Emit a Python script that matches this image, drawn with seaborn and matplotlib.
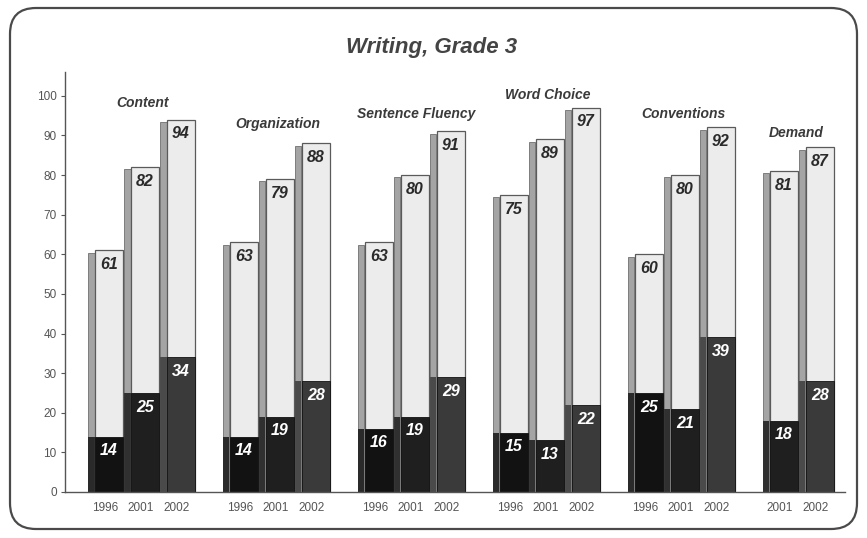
import numpy as np
import pandas as pd
import matplotlib
matplotlib.use("Agg")
import matplotlib.pyplot as plt
from matplotlib.patches import FancyBboxPatch
import seaborn as sns

# ---------------- data ----------------
categories = ["Content", "Organization", "Sentence Fluency", "Word Choice", "Conventions", "Demand"]
years_by_cat = [["1996", "2001", "2002"], ["1996", "2001", "2002"], ["1996", "2001", "2002"],
                ["1996", "2001", "2002"], ["1996", "2001", "2002"], ["2001", "2002"]]
total_pct = [[61, 82, 94], [63, 79, 88], [63, 80, 91], [75, 89, 97], [60, 80, 92], [81, 87]]
lower_pct = [[14, 25, 34], [14, 19, 28], [16, 19, 29], [15, 13, 22], [25, 21, 39], [18, 28]]
y_ticks = [0, 10, 20, 30, 40, 50, 60, 70, 80, 90, 100]

# ---------------- layout ----------------
GROUP_STEP = 3.75
FRONT_OFF, FRONT_W = 0.11, 0.78
SIDE_OFF, SIDE_W = -0.385, 0.19
cat_label_y = [98.2, 92.9, 95.5, 100.3, 95.5, 90.7]
cat_label_dx = [0.0, 0.0, 0.11, 0.0, 0.03, -0.1]

rows = []
for g, (cat, yrs, tots, lows) in enumerate(zip(categories, years_by_cat, total_pct, lower_pct)):
    for i, (yr, t, l) in enumerate(zip(yrs, tots, lows)):
        rows.append(dict(cat=cat, group=g, year=yr, slot=g * GROUP_STEP + i, total=t, lower=l))
df = pd.DataFrame(rows)
df["front_x"] = df["slot"] + FRONT_OFF
df["side_x"] = df["slot"] + SIDE_OFF
df["side_h"] = df["total"] - 0.6

dark_pal = {"1996": "#121212", "2001": "#1f1f1f", "2002": "#3a3a3a"}
side_dark_pal = {"1996": "#2a2a2a", "2001": "#303030", "2002": "#4a4a4a"}

sns.set_theme(style="white")
plt.rcParams["font.family"] = ["Liberation Sans", "DejaVu Sans"]

fig = plt.figure(figsize=(8.67, 5.38), dpi=100)
ax = fig.add_axes([65 / 867, 1 - 492 / 538, (845 - 65) / 867, (492 - 72) / 538])

# side faces (gray for whole height)
sns.barplot(data=df, x="side_x", y="side_h", native_scale=True, width=SIDE_W,
            color="#a4a4a4", saturation=1, errorbar=None, ax=ax,
            edgecolor="#707070", linewidth=0.6)
# side faces of dark part
sns.barplot(data=df, x="side_x", y="lower", hue="year", palette=side_dark_pal, dodge=False,
            native_scale=True, width=SIDE_W, saturation=1, errorbar=None, ax=ax,
            legend=False, linewidth=0)
# light front faces
sns.barplot(data=df, x="front_x", y="total", native_scale=True, width=FRONT_W,
            color="#ececec", saturation=1, errorbar=None, ax=ax,
            edgecolor="#5a5a5a", linewidth=0.9)
# dark lower portions
sns.barplot(data=df, x="front_x", y="lower", hue="year", palette=dark_pal, dodge=False,
            native_scale=True, width=FRONT_W, saturation=1, errorbar=None, ax=ax,
            legend=False, edgecolor="#111111", linewidth=0.6)

# value labels
for _, r in df.iterrows():
    ax.text(r["front_x"], r["total"] - 3.6, f"{r['total']}", ha="center", va="center",
            fontsize=11.5, fontstyle="italic", fontweight="bold", color="#2a2a2a")
    ax.text(r["front_x"], r["lower"] - 3.6, f"{r['lower']}", ha="center", va="center",
            fontsize=11.5, fontstyle="italic", fontweight="bold", color="white")

# category labels
for g, cat in enumerate(categories):
    sub = df[df["group"] == g]
    cx = sub["slot"].mean() + 0.05 + cat_label_dx[g]
    ax.text(cx, cat_label_y[g], cat, ha="center", va="center", fontsize=10,
            fontstyle="italic", fontweight="bold", color="#3a3a3a")

ax.set_xlim(-1.11, 20.56)
ax.set_ylim(0, 106)
ax.set_xticks(df["slot"].tolist())
ax.set_xticklabels(df["year"].tolist(), fontsize=8.5, color="#555555")
ax.set_yticks(y_ticks)
ax.set_yticklabels([str(v) for v in y_ticks], fontsize=8.5, color="#555555")
ax.set_xlabel("")
ax.set_ylabel("")
for s in ["top", "right"]:
    ax.spines[s].set_visible(False)
for s in ["left", "bottom"]:
    ax.spines[s].set_color("#555555")
    ax.spines[s].set_linewidth(1.0)
ax.tick_params(axis="y", left=True, length=3, width=0.8, color="#555555", pad=3)
ax.tick_params(axis="x", bottom=False, pad=1)
ax.set_facecolor("white")

fig.text(432 / 867, 1 - 47 / 538, "Writing, Grade 3", ha="center", va="center",
         fontsize=16, fontstyle="italic", fontweight="bold", color="#444444")

frame = FancyBboxPatch((10 / 867, 9 / 538), (857 - 10) / 867, (530 - 9) / 538,
                       boxstyle="round,pad=0,rounding_size=0.03",
                       transform=fig.transFigure, facecolor="none",
                       edgecolor="#4a4a4a", linewidth=1.6, mutation_aspect=867 / 538)
fig.patches.append(frame)

fig.savefig("out.png", dpi=100, facecolor="white")
